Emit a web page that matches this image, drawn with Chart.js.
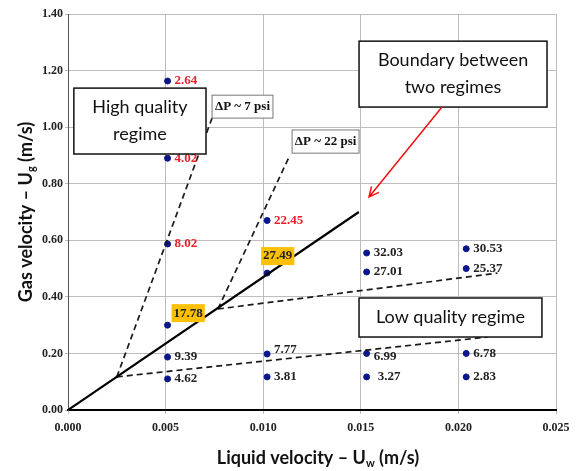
<!DOCTYPE html>
<html>
<head>
<meta charset="utf-8">
<script src="https://cdn.jsdelivr.net/npm/chart.js@4"></script>
<style>
  body { margin: 0; background: #fff; }
</style>
</head>
<body>
<canvas id="myChart" width="580" height="471"></canvas>
<script>
'use strict';

// measured points: liquid velocity (m/s), gas velocity (m/s), label
const liquidVel = [0.0051, 0.0051, 0.0051, 0.0051, 0.0051, 0.0051,
                   0.0102, 0.0102, 0.0102, 0.0102,
                   0.0153, 0.0153, 0.0153, 0.0153,
                   0.0204, 0.0204, 0.0204, 0.0204];
const gasVel = [1.163, 0.89, 0.587, 0.30, 0.187, 0.11,
                0.67, 0.484, 0.198, 0.117,
                0.555, 0.488, 0.20, 0.117,
                0.57, 0.50, 0.20, 0.117];
const pointLabels = ['2.64', '4.02', '8.02', '17.78', '9.39', '4.62',
                     '22.45', '27.49', '7.77', '3.81',
                     '32.03', '27.01', '6.99', '3.27',
                     '30.53', '25.37', '6.78', '2.83'];
const redLabels = ['2.64', '4.02', '8.02', '22.45'];
const highlighted = ['17.78', '27.49'];

// regime boundary and pressure-drop lines
const boundaryX = [0, 0.0149];
const boundaryY = [0, 0.70];
const dp7X = [0.0025, 0.00738];
const dp7Y = [0.117, 1.032];
const dp22X = [0.00768, 0.01137];
const dp22Y = [0.357, 0.901];
const upperX = [0.00768, 0.0220];
const upperY = [0.357, 0.484];
const lowerX = [0.0025, 0.0215];
const lowerY = [0.117, 0.258];

const xTicks = [0, 0.005, 0.010, 0.015, 0.020, 0.025];
const yTicks = [0, 0.2, 0.4, 0.6, 0.8, 1.0, 1.2, 1.4];

function toPoints(xs, ys){
    return xs.map((x, i) => ({x: x, y: ys[i]}));
}

function lineSet(xs, ys, dashed, width){
    return {
        data: toPoints(xs, ys),
        showLine: true,
        borderColor: dashed ? '#1a1a1a' : '#000',
        borderWidth: width,
        borderDash: dashed ? [6, 4] : [],
        pointRadius: 0,
        fill: false
    };
}

// annotation boxes, in data coordinates
const boxes = [
    {x0: 0.0003, x1: 0.00707, y0: 1.138, y1: 0.905, lines: ['High quality', 'regime'], font: '18px Lato', border: '#111', lw: 1.5},
    {x0: 0.00738, x1: 0.0105, y0: 1.113, y1: 1.032, lines: ['\u0394P ~ 7 psi'], font: 'bold 13px "Liberation Serif"', border: '#777', lw: 1},
    {x0: 0.01148, x1: 0.01491, y0: 0.99, y1: 0.908, lines: ['\u0394P ~ 22 psi'], font: 'bold 13px "Liberation Serif"', border: '#777', lw: 1},
    {x0: 0.01491, x1: 0.02454, y0: 1.304, y1: 1.071, lines: ['Boundary between', 'two regimes'], font: '18px Lato', border: '#111', lw: 1.5},
    {x0: 0.01491, x1: 0.02428, y0: 0.396, y1: 0.258, lines: ['Low quality regime'], font: '18px Lato', border: '#111', lw: 1.5}
];

function drawSubText(ctx, parts, x, y, size){
    // parts: [text, sub, text]
    ctx.font = 'bold ' + size + 'px Lato';
    let w0 = ctx.measureText(parts[0]).width;
    let w2 = ctx.measureText(parts[2]).width;
    ctx.font = 'bold ' + Math.round(size * 0.62) + 'px Lato';
    let w1 = ctx.measureText(parts[1]).width;
    let total = w0 + w1 + w2;
    let cx = x - total / 2;
    ctx.textAlign = 'left';
    ctx.textBaseline = 'middle';
    ctx.font = 'bold ' + size + 'px Lato';
    ctx.fillText(parts[0], cx, y);
    ctx.font = 'bold ' + Math.round(size * 0.62) + 'px Lato';
    ctx.fillText(parts[1], cx + w0, y + size * 0.3);
    ctx.font = 'bold ' + size + 'px Lato';
    ctx.fillText(parts[2], cx + w0 + w1, y);
}

const overlay = {
    id: 'overlay',
    afterDatasetsDraw(chart){
        const ctx = chart.ctx;
        const xs = chart.scales.x;
        const ys = chart.scales.y;
        ctx.save();

        // point labels
        ctx.font = 'bold 13px "Liberation Serif"';
        ctx.textBaseline = 'middle';
        ctx.textAlign = 'left';
        pointLabels.forEach((lab, i) => {
            let px = xs.getPixelForValue(liquidVel[i]);
            let py = ys.getPixelForValue(gasVel[i]);
            let dx = 7, dy = 0;
            if(lab === '17.78'){ dx = 6; dy = -12; }
            if(lab === '27.49'){ dx = -4; dy = -17; }
            if(lab === '3.27'){ dx = 11; }
            if(lab === '7.77'){ dy = -4; }
            if(lab === '6.99'){ dy = 3; }
            let tx = px + dx, ty = py + dy;
            if(highlighted.includes(lab)){
                let w = ctx.measureText(lab).width;
                ctx.fillStyle = '#FFC000';
                ctx.fillRect(tx - 2, ty - 9, w + 4, 18);
            }
            ctx.fillStyle = redLabels.includes(lab) ? '#e8202a' : '#222';
            ctx.fillText(lab, tx, ty);
        });

        // boxes
        boxes.forEach((b) => {
            let l = xs.getPixelForValue(b.x0), r = xs.getPixelForValue(b.x1);
            let t = ys.getPixelForValue(b.y0), btm = ys.getPixelForValue(b.y1);
            ctx.fillStyle = '#fff';
            ctx.fillRect(l, t, r - l, btm - t);
            ctx.strokeStyle = b.border;
            ctx.lineWidth = b.lw;
            ctx.setLineDash([]);
            ctx.strokeRect(l, t, r - l, btm - t);
            ctx.fillStyle = '#111';
            ctx.font = b.font;
            ctx.textAlign = 'center';
            ctx.textBaseline = 'middle';
            let cx = (l + r) / 2, cy = (t + btm) / 2;
            let lh = 27;
            b.lines.forEach((s, k) => {
                ctx.fillText(s, cx, cy + (k - (b.lines.length - 1) / 2) * lh);
            });
        });

        // red arrow
        let ax0 = xs.getPixelForValue(0.01916), ay0 = ys.getPixelForValue(1.071);
        let ax1 = xs.getPixelForValue(0.01542), ay1 = ys.getPixelForValue(0.753);
        ctx.strokeStyle = '#f01010';
        ctx.lineWidth = 1.5;
        ctx.beginPath();
        ctx.moveTo(ax0, ay0);
        ctx.lineTo(ax1, ay1);
        let ang = Math.atan2(ay1 - ay0, ax1 - ax0);
        let len = 11;
        ctx.moveTo(ax1 - len * Math.cos(ang - 0.45), ay1 - len * Math.sin(ang - 0.45));
        ctx.lineTo(ax1, ay1);
        ctx.lineTo(ax1 - len * Math.cos(ang + 0.45), ay1 - len * Math.sin(ang + 0.45));
        ctx.stroke();

        // axis titles
        ctx.fillStyle = '#111';
        drawSubText(ctx, ['Liquid velocity \u2013 U', 'w', ' (m/s)'], (xs.left + xs.right) / 2 + 6, 458, 18);
        ctx.translate(26, (ys.top + ys.bottom) / 2);
        ctx.rotate(-Math.PI / 2);
        drawSubText(ctx, ['Gas velocity \u2013 U', 'g', ' (m/s)'], 0, 0, 18);
        ctx.restore();
    }
};

const config = {
    type: 'scatter',
    data: {
        datasets: [
            lineSet(boundaryX, boundaryY, false, 2.2),
            lineSet(dp7X, dp7Y, true, 1.7),
            lineSet(dp22X, dp22Y, true, 1.7),
            lineSet(upperX, upperY, true, 1.7),
            lineSet(lowerX, lowerY, true, 1.7),
            {
                data: toPoints(liquidVel, gasVel),
                backgroundColor: '#0b168a',
                borderColor: '#0b168a',
                pointRadius: 3,
                pointHoverRadius: 3
            }
        ]
    },
    options: {
        responsive: false,
        devicePixelRatio: 1,
        animation: false,
        layout: { padding: { top: 14, right: 24, left: 0, bottom: 0 } },
        plugins: { legend: { display: false }, tooltip: { enabled: false } },
        scales: {
            x: {
                type: 'linear',
                min: 0,
                max: 0.025,
                afterBuildTicks: (s) => { s.ticks = xTicks.map(v => ({value: v})); },
                ticks: {
                    callback: (v) => Number(v).toFixed(3),
                    font: { family: 'Liberation Serif', weight: 'bold', size: 12 },
                    color: '#222',
                    padding: 7,
                    maxRotation: 0
                },
                grid: { color: '#bdbdbd', lineWidth: 1, tickLength: 4 },
                border: { color: '#000', width: 2 },
                afterFit: (s) => { s.height = 61; }
            },
            y: {
                type: 'linear',
                min: 0,
                max: 1.4,
                afterBuildTicks: (s) => { s.ticks = yTicks.map(v => ({value: v})); },
                ticks: {
                    callback: (v) => Number(v).toFixed(2),
                    font: { family: 'Liberation Serif', weight: 'bold', size: 12 },
                    color: '#222',
                    padding: 2
                },
                grid: { color: '#bdbdbd', lineWidth: 1, tickLength: 3 },
                border: { color: '#555', width: 1 },
                afterFit: (s) => { s.width = 68; }
            }
        }
    },
    plugins: [overlay]
};

const myChart = new Chart(document.getElementById('myChart'), config);
</script>
</body>
</html>
